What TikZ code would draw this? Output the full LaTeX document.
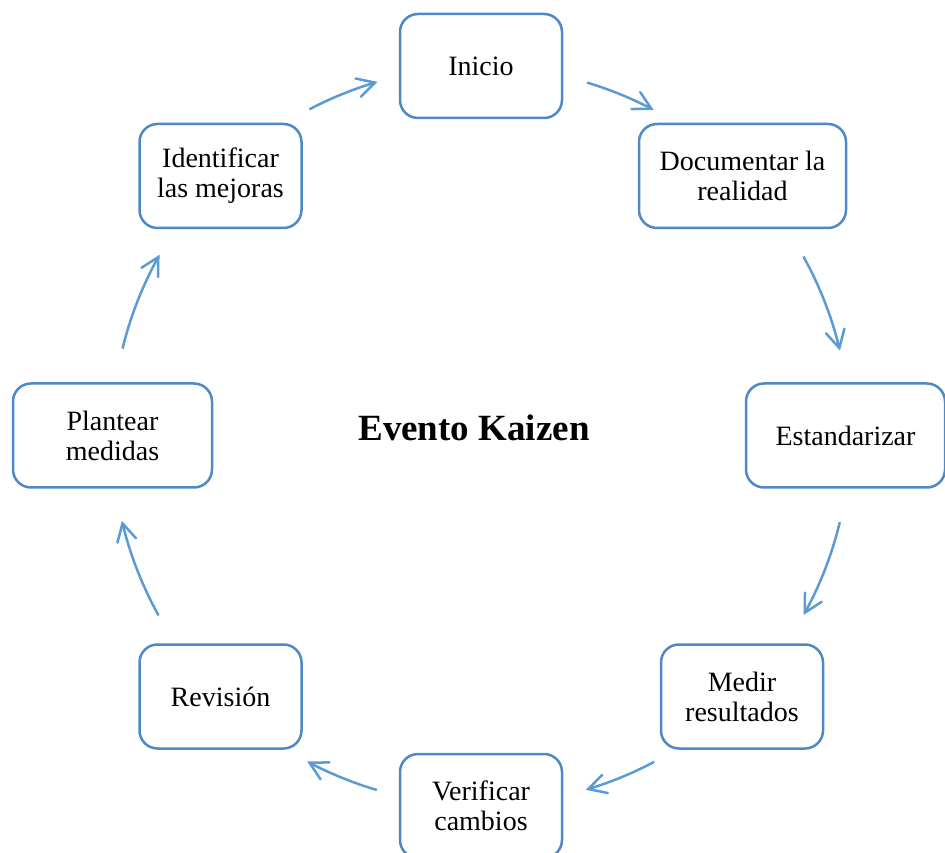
\documentclass[tikz,border=0pt]{standalone}
\usepackage{fontspec}
\setmainfont{Liberation Serif}
\usetikzlibrary{decorations.markings}
\definecolor{boxblue}{HTML}{4F88C6}
\definecolor{arrowblue}{HTML}{5B9BD5}
\tikzset{
  stepbox/.style={draw=boxblue, line width=2.5pt, rounded corners=18pt, fill=white,
    minimum height=104pt, align=center, inner sep=2pt,
    font=\fontsize{28}{30}\selectfont},
  cyclearrow/.style={draw=arrowblue, line width=2.5pt,
    postaction={decorate, decoration={markings, mark=at position 1 with
      {\draw[arrowblue, line width=2.5pt, line cap=round, line join=miter]
        (-17.5pt,9.5pt) -- (0pt,0pt) -- (-17.5pt,-9.5pt);}}}},
}
\begin{document}
\begin{tikzpicture}[x=1pt,y=1pt]
\useasboundingbox (0,0) rectangle (945,852);
\coordinate (C) at (481,416);
\node[stepbox, minimum width=162pt] (inicio) at (481,786) {Inicio};
\node[stepbox, minimum width=207pt] (doc) at (742.5,676) {Documentar la\\realidad};
\node[stepbox, minimum width=199pt] (est) at (845.5,416.5) {Estandarizar};
\node[stepbox, minimum width=162pt] (medir) at (742,155.5) {Medir\\resultados};
\node[stepbox, minimum width=162pt] (verif) at (481,46) {Verificar\\cambios};
\node[stepbox, minimum width=162pt] (rev) at (220.5,155.5) {Revisión};
\node[stepbox, minimum width=199pt] (plan) at (112.5,416.5) {Plantear\\medidas};
\node[stepbox, minimum width=162pt] (ident) at (220.5,676) {Identificar\\las mejoras};
\node[font=\fontsize{37}{40}\selectfont\bfseries] (title) at (474,424) {Evento Kaizen};
% arc connectors on a circle of radius 369 around C
\coordinate (a1) at ([shift={(73.3:369)}]C);
\coordinate (a2) at ([shift={(29.1:369)}]C);
\coordinate (a3) at ([shift={(-13.5:369)}]C);
\coordinate (a4) at ([shift={(-62:369)}]C);
\coordinate (a5) at ([shift={(-106.4:369)}]C);
\coordinate (a6) at ([shift={(-150.9:369)}]C);
\coordinate (a7) at ([shift={(166.3:369)}]C);
\coordinate (a8) at ([shift={(117.7:369)}]C);
\draw[cyclearrow] (a1) arc[start angle=73.3, end angle=62.5, radius=369];
\draw[cyclearrow] (a2) arc[start angle=29.1, end angle=13.8, radius=369];
\draw[cyclearrow] (a3) arc[start angle=-13.5, end angle=-28.6, radius=369];
\draw[cyclearrow] (a4) arc[start angle=-62, end angle=-73.1, radius=369];
\draw[cyclearrow] (a5) arc[start angle=-106.4, end angle=-117.7, radius=369];
\draw[cyclearrow] (a6) arc[start angle=-150.9, end angle=-166.3, radius=369];
\draw[cyclearrow] (a7) arc[start angle=166.3, end angle=151, radius=369];
\draw[cyclearrow] (a8) arc[start angle=117.7, end angle=106.7, radius=369];
\end{tikzpicture}
\end{document}
